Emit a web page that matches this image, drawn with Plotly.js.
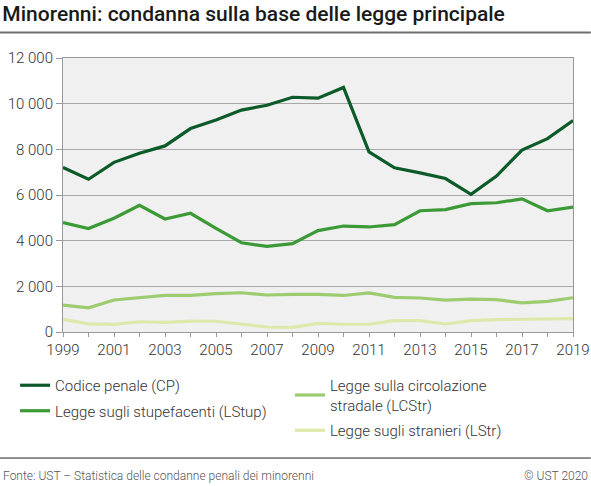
<!DOCTYPE html>
<html>
<head>
<meta charset="utf-8">
<script src="https://cdn.plot.ly/plotly-3.0.1.min.js"></script>
<style>
  html, body { margin: 0; padding: 0; background: #fff; }
  #chart { width: 591px; height: 486px; }
</style>
</head>
<body>
<div id="chart"></div>
<script>
// anni
const years = [1999, 2000, 2001, 2002, 2003, 2004, 2005, 2006, 2007, 2008, 2009,
               2010, 2011, 2012, 2013, 2014, 2015, 2016, 2017, 2018, 2019];

// condanne per legge principale
const cp    = [7210, 6690, 7430, 7830, 8150, 8910, 9280, 9720, 9930, 10280, 10240,
               10710, 7890, 7190, 6970, 6720, 6030, 6830, 7970, 8470, 9260];
const lstup = [4790, 4530, 4980, 5550, 4950, 5200, 4540, 3910, 3750, 3870, 4440,
               4640, 4600, 4700, 5310, 5360, 5620, 5660, 5830, 5310, 5470];
const lcstr = [1180, 1060, 1400, 1500, 1600, 1600, 1680, 1720, 1620, 1650, 1650,
               1600, 1710, 1520, 1490, 1400, 1440, 1420, 1280, 1340, 1500];
const lstr  = [550, 360, 330, 450, 420, 480, 470, 340, 220, 200, 380,
               340, 340, 500, 500, 350, 500, 540, 550, 550, 590];

const names = ['Codice penale (CP)', 'Legge sugli stupefacenti (LStup)',
               'Legge sulla circolazione<br>stradale (LCStr)', 'Legge sugli stranieri (LStr)'];
const colors = ['#0b5a27', '#3b9a35', '#9dcc70', '#dce9aa'];

const series = [cp, lstup, lcstr, lstr];
const legendOf = ['legend', 'legend', 'legend2', 'legend2'];

const data = series.map((vals, i) => ({
  type: 'scatter',
  mode: 'lines',
  x: years,
  y: vals,
  name: names[i],
  legend: legendOf[i],
  legendgroup: 'g' + i,
  line: { color: colors[i], width: 3.2 },
  hoverinfo: 'x+y'
}));

const family = 'Roboto, "Open Sans", sans-serif';
const font = { family: family, size: 15, color: '#333', weight: 300 };

const legendBase = {
  orientation: 'v',
  yanchor: 'top',
  y: -0.135,
  xanchor: 'left',
  font: { family: family, size: 15, color: '#333', weight: 300 },
  bgcolor: 'rgba(0,0,0,0)',
  traceorder: 'grouped',
  itemwidth: 30,
  tracegroupgap: 3
};

const layout = {
  width: 591,
  height: 486,
  margin: { l: 63, r: 18, t: 58, b: 154 },
  paper_bgcolor: '#ffffff',
  plot_bgcolor: '#f0f0f0',
  font: font,
  separators: ', ',
  showlegend: true,
  title: {
    text: 'Minorenni: condanna sulla base delle legge principale',
    font: { family: family, size: 21, color: '#1a1a1a', weight: 500 },
    x: 0.004, xanchor: 'left', xref: 'container',
    y: 0.972, yanchor: 'middle', yref: 'container'
  },
  xaxis: {
    range: [1999, 2019],
    dtick: 1,
    tick0: 1999,
    ticklabelstep: 2,
    ticks: 'outside',
    ticklen: 4,
    tickcolor: '#999',
    showgrid: false,
    showline: true,
    linecolor: '#999',
    linewidth: 1,
    mirror: true,
    zeroline: false,
    tickfont: { family: family, size: 15, color: '#333', weight: 300 }
  },
  yaxis: {
    range: [0, 12000],
    dtick: 2000,
    tickformat: ',d',
    ticks: 'outside',
    ticklen: 6,
    tickcolor: '#999',
    showgrid: true,
    gridcolor: '#a8a8a8',
    gridwidth: 1,
    showline: true,
    linecolor: '#999',
    mirror: true,
    zeroline: false,
    tickfont: { family: family, size: 15, color: '#333', weight: 300 }
  },
  legend: Object.assign({}, legendBase, { x: -0.094 }),
  legend2: Object.assign({}, legendBase, { x: 0.445 }),
  shapes: [
    { type: 'line', xref: 'paper', yref: 'paper', x0: -0.1235, x1: 1.035,
      y0: 1.093, y1: 1.093, line: { color: '#6e6e6e', width: 2 } },
    { type: 'line', xref: 'paper', yref: 'paper', x0: -0.1235, x1: 1.035,
      y0: -0.460, y1: -0.460, line: { color: '#222', width: 1 } }
  ],
  annotations: [
    { text: 'Fonte: UST – Statistica delle condanne penali dei minorenni',
      xref: 'paper', yref: 'paper', x: -0.1215, y: -0.527,
      xanchor: 'left', yanchor: 'middle', showarrow: false,
      font: { family: family, size: 12, color: '#555', weight: 300 } },
    { text: '© UST 2020',
      xref: 'paper', yref: 'paper', x: 1.033, y: -0.527,
      xanchor: 'right', yanchor: 'middle', showarrow: false,
      font: { family: family, size: 12, color: '#555', weight: 300 } }
  ]
};

Plotly.newPlot('chart', data, layout, { displayModeBar: false, staticPlot: true });
</script>
</body>
</html>
